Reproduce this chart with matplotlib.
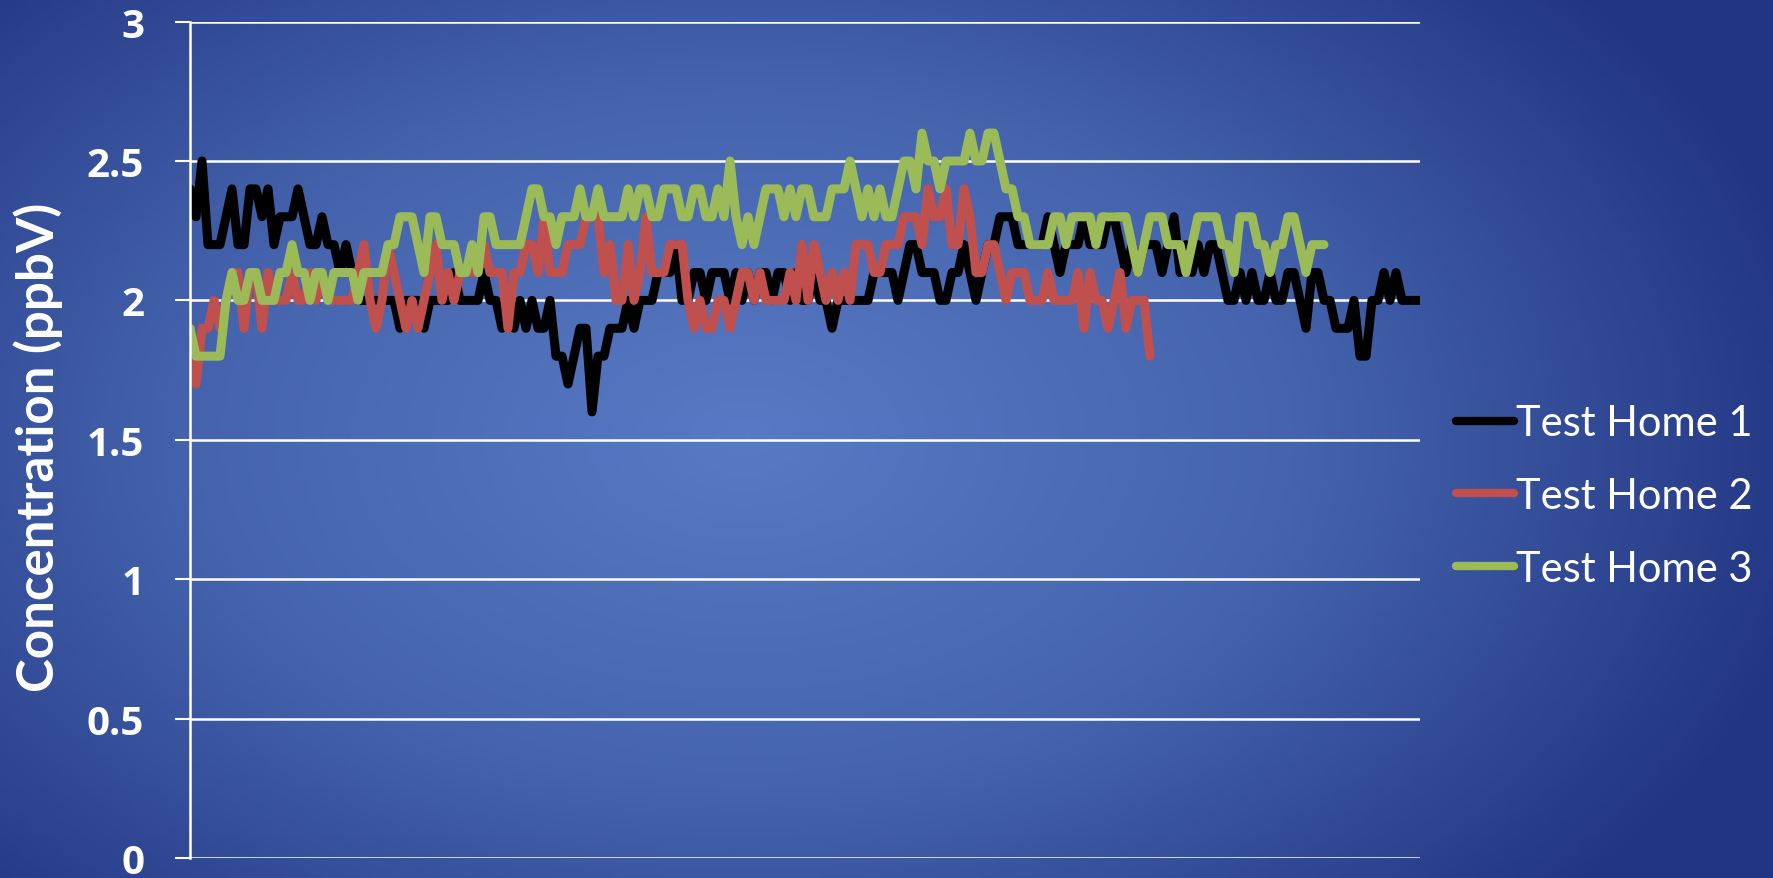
import numpy as np
import matplotlib
matplotlib.use("Agg")
import matplotlib.pyplot as plt
from matplotlib.colors import LinearSegmentedColormap

# readings, ppbV, one value per sample
home1 = [
    2.4, 2.3, 2.5, 2.2, 2.2, 2.2, 2.3, 2.4, 2.2, 2.2,
    2.4, 2.4, 2.3, 2.4, 2.2, 2.3, 2.3, 2.3, 2.4, 2.3,
    2.2, 2.2, 2.3, 2.2, 2.2, 2.1, 2.2, 2.1, 2.0, 2.0,
    2.0, 2.0, 2.0, 2.0, 2.0, 1.9, 2.0, 2.0, 2.0, 1.9,
    2.0, 2.0, 2.0, 2.0, 2.1, 2.0, 2.0, 2.0, 2.0, 2.1,
    2.0, 2.0, 1.9, 2.0, 1.9, 2.0, 1.9, 2.0, 1.9, 1.9,
    2.0, 1.8, 1.8, 1.7, 1.8, 1.9, 1.9, 1.6, 1.8, 1.8,
    1.9, 1.9, 1.9, 2.0, 1.9, 2.0, 2.0, 2.0, 2.1, 2.1,
    2.1, 2.2, 2.0, 2.0, 2.1, 2.1, 2.0, 2.1, 2.1, 2.1,
    2.0, 2.1, 2.0, 2.1, 2.0, 2.1, 2.1, 2.0, 2.1, 2.1,
    2.0, 2.1, 2.0, 2.0, 2.1, 2.0, 2.0, 1.9, 2.0, 2.0,
    2.0, 2.0, 2.0, 2.0, 2.1, 2.1, 2.1, 2.1, 2.0, 2.1,
    2.2, 2.2, 2.1, 2.1, 2.1, 2.0, 2.0, 2.1, 2.1, 2.2,
    2.1, 2.0, 2.1, 2.2, 2.2, 2.3, 2.3, 2.3, 2.2, 2.2,
    2.2, 2.2, 2.2, 2.3, 2.2, 2.1, 2.2, 2.2, 2.2, 2.3,
    2.2, 2.2, 2.2, 2.3, 2.3, 2.2, 2.1, 2.2, 2.1, 2.2,
    2.2, 2.2, 2.1, 2.2, 2.3, 2.1, 2.2, 2.1, 2.2, 2.1,
    2.2, 2.2, 2.1, 2.0, 2.0, 2.1, 2.0, 2.1, 2.0, 2.0,
    2.1, 2.0, 2.0, 2.1, 2.1, 2.0, 1.9, 2.1, 2.1, 2.0,
    2.0, 1.9, 1.9, 1.9, 2.0, 1.8, 1.8, 2.0, 2.0, 2.1,
    2.0, 2.1, 2.0, 2.0, 2.0, 2.0,
]

home2 = [
    1.9, 1.7, 1.9, 1.9, 2.0, 1.9, 2.0, 2.1, 2.1, 1.9,
    2.1, 2.1, 1.9, 2.1, 2.0, 2.0, 2.0, 2.1, 2.0, 2.0,
    2.1, 2.0, 2.1, 2.0, 2.0, 2.0, 2.0, 2.0, 2.1, 2.2,
    2.0, 1.9, 2.0, 2.2, 2.1, 2.0, 1.9, 2.0, 1.9, 2.0,
    2.1, 2.2, 2.0, 2.1, 2.0, 2.1, 2.1, 2.1, 2.1, 2.2,
    2.1, 2.1, 2.1, 1.9, 2.1, 2.1, 2.2, 2.2, 2.1, 2.3,
    2.1, 2.1, 2.1, 2.2, 2.2, 2.2, 2.3, 2.3, 2.3, 2.1,
    2.2, 2.0, 2.0, 2.2, 2.0, 2.1, 2.3, 2.1, 2.1, 2.1,
    2.2, 2.2, 2.2, 2.0, 1.9, 2.0, 1.9, 1.9, 2.0, 2.0,
    1.9, 2.0, 2.1, 2.1, 2.0, 2.1, 2.0, 2.0, 2.0, 2.0,
    2.1, 2.0, 2.2, 2.0, 2.2, 2.1, 2.0, 2.1, 2.0, 2.1,
    2.0, 2.2, 2.2, 2.2, 2.1, 2.1, 2.2, 2.2, 2.2, 2.3,
    2.3, 2.3, 2.2, 2.4, 2.3, 2.3, 2.4, 2.2, 2.2, 2.4,
    2.3, 2.1, 2.1, 2.2, 2.2, 2.1, 2.0, 2.1, 2.1, 2.1,
    2.0, 2.0, 2.0, 2.1, 2.0, 2.0, 2.0, 2.0, 2.1, 1.9,
    2.1, 2.0, 2.0, 1.9, 2.0, 2.1, 1.9, 2.0, 2.0, 2.0,
    1.8,
]

home3 = [
    1.9, 1.8, 1.8, 1.8, 1.8, 1.8, 2.0, 2.1, 2.0, 2.0,
    2.1, 2.1, 2.0, 2.0, 2.0, 2.1, 2.1, 2.2, 2.1, 2.1,
    2.0, 2.1, 2.1, 2.0, 2.1, 2.1, 2.1, 2.1, 2.0, 2.1,
    2.1, 2.1, 2.1, 2.2, 2.2, 2.3, 2.3, 2.3, 2.2, 2.1,
    2.3, 2.3, 2.2, 2.2, 2.2, 2.1, 2.1, 2.2, 2.1, 2.3,
    2.3, 2.2, 2.2, 2.2, 2.2, 2.2, 2.3, 2.4, 2.4, 2.3,
    2.3, 2.2, 2.3, 2.3, 2.3, 2.4, 2.3, 2.3, 2.4, 2.3,
    2.3, 2.3, 2.3, 2.4, 2.3, 2.4, 2.4, 2.3, 2.3, 2.4,
    2.4, 2.4, 2.3, 2.3, 2.4, 2.4, 2.3, 2.3, 2.4, 2.3,
    2.5, 2.3, 2.2, 2.3, 2.2, 2.3, 2.4, 2.4, 2.4, 2.3,
    2.4, 2.3, 2.4, 2.4, 2.3, 2.3, 2.3, 2.4, 2.4, 2.4,
    2.5, 2.4, 2.3, 2.4, 2.3, 2.4, 2.3, 2.3, 2.4, 2.5,
    2.5, 2.4, 2.6, 2.5, 2.5, 2.4, 2.5, 2.5, 2.5, 2.5,
    2.6, 2.5, 2.5, 2.6, 2.6, 2.5, 2.4, 2.4, 2.3, 2.3,
    2.2, 2.2, 2.2, 2.2, 2.3, 2.3, 2.2, 2.3, 2.3, 2.3,
    2.3, 2.2, 2.3, 2.3, 2.3, 2.3, 2.3, 2.2, 2.1, 2.2,
    2.3, 2.3, 2.3, 2.2, 2.2, 2.2, 2.1, 2.2, 2.3, 2.3,
    2.3, 2.3, 2.2, 2.2, 2.1, 2.3, 2.3, 2.3, 2.2, 2.2,
    2.1, 2.2, 2.2, 2.3, 2.3, 2.2, 2.1, 2.2, 2.2, 2.2,
]

series_names = ["Test Home 1", "Test Home 2", "Test Home 3"]
series_colors = ["#000000", "#c0504d", "#9bbb59"]
yticks = [0, 0.5, 1, 1.5, 2, 2.5, 3]
ytick_labels = ["0", "0.5", "1", "1.5", "2", "2.5", "3"]

fig = plt.figure(figsize=(17.73, 8.79), dpi=100)

# slide-style background: radial blue gradient
bg = fig.add_axes([0, 0, 1, 1], zorder=-10)
gx, gy = np.meshgrid(np.linspace(0, 1, 400), np.linspace(0, 1, 200))
dist = np.sqrt(((gx - 0.42) / 0.62) ** 2 + ((gy - 0.5) / 0.8) ** 2)
bg_cmap = LinearSegmentedColormap.from_list("bg", ["#5879c4", "#4564ad", "#223583"])
bg.imshow(np.clip(dist, 0, 1), cmap=bg_cmap, aspect="auto", extent=[0, 1, 0, 1],
          origin="lower", vmin=0, vmax=1)
bg.axis("off")

ax = fig.add_axes([190 / 1773, 1 - 859 / 879, 1230 / 1773, (859 - 22.6) / 879])
ax.set_facecolor("none")

for vals, name, col in zip([home1, home2, home3], series_names, series_colors):
    ax.plot(np.arange(len(vals)), vals, color=col, lw=6.5, label=name,
            solid_joinstyle="round", solid_capstyle="round")

ax.set_xlim(0, len(home1) - 1)
ax.set_ylim(0, 3)
ax.set_yticks(yticks)
ax.set_yticklabels(ytick_labels, fontsize=29, fontweight="bold", color="white",
                   family="Open Sans")
ax.tick_params(axis="y", direction="out", length=11, width=1.5, color="white", pad=22)
ax.set_xticks([])
ax.grid(axis="y", color="white", lw=1.8)
ax.set_axisbelow(True)
for s in ["top", "right", "bottom"]:
    ax.spines[s].set_visible(False)
ax.spines["left"].set_color("white")
ax.spines["left"].set_linewidth(1.8)

fig.text(38 / 1773, 1 - 447 / 879, "Concentration (ppbV)", rotation=90, color="white",
         fontsize=36.7, fontweight="bold", family="Lato", ha="center", va="center")

leg = fig.legend(loc="center left", bbox_to_anchor=(1456 / 1773, 1 - 497 / 879),
                 frameon=False, prop={"family": "Lato", "size": 30},
                 handlelength=1.4, handletextpad=0.05, labelspacing=0.83,
                 borderpad=0, borderaxespad=0)
for t in leg.get_texts():
    t.set_color("white")
for h in leg.get_lines():
    h.set_linewidth(6)

fig.savefig("out.png", dpi=100)
